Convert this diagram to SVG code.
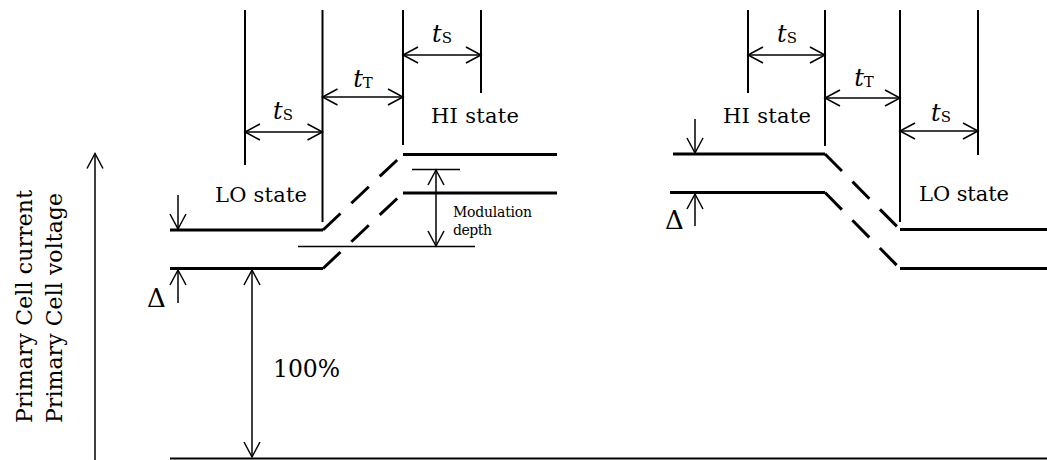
<svg xmlns="http://www.w3.org/2000/svg" width="1047" height="460" viewBox="0 0 1047 460">
<style>
  text { font-family: "DejaVu Serif", "Liberation Serif", serif; fill: #000; }
  .lbl { font-size: 21px; }
  .t { font-size: 24px; font-style: italic; }
  .sub { font-size: 15px; font-style: normal; }
  .delta { font-size: 26px; }
  .level { stroke: #000; stroke-width: 3; fill: none; }
  .dash { stroke: #000; stroke-width: 3; fill: none; stroke-dasharray: 24 15; }
  .vl { stroke: #000; stroke-width: 2; fill: none; }
  .thin { stroke: #000; stroke-width: 1.5; fill: none; }
  .arr { stroke: #000; stroke-width: 1.5; fill: none; marker-end: url(#ah); }
  .darr { stroke: #000; stroke-width: 1.5; fill: none; marker-start: url(#ah); marker-end: url(#ah); }
</style>
<defs>
  <marker id="ah" viewBox="-17 -10 20 20" refX="0" refY="0" markerWidth="20" markerHeight="20" markerUnits="userSpaceOnUse" orient="auto-start-reverse" overflow="visible">
    <path d="M-15,-8 L0,0 L-15,8" fill="none" stroke="#000" stroke-width="1.5"/>
  </marker>
</defs>
<rect width="1047" height="460" fill="#fff"/>

<g id="axis">
  <line class="vl" x1="170" y1="458.5" x2="1047" y2="458.5"/>
  <text textLength="233" transform="translate(32,423) rotate(-90)" style="font-size:22px">Primary Cell current</text>
  <text textLength="230" transform="translate(62,423) rotate(-90)" style="font-size:22px">Primary Cell voltage</text>
</g>

<g id="left-levels">
  <line class="level" x1="170" y1="230" x2="323" y2="230"/>
  <path class="dash" d="M323,230 L403,154.5"/>
  <line class="level" x1="403" y1="154.5" x2="557" y2="154.5"/>
  <line class="level" x1="170" y1="268.5" x2="323" y2="268.5"/>
  <path class="dash" d="M323,268.5 L403,193"/>
  <line class="level" x1="403" y1="193" x2="557" y2="193"/>
</g>

<g id="right-levels">
  <line class="level" x1="673" y1="154" x2="825" y2="154"/>
  <path class="dash" d="M825,154 L900,229.5"/>
  <line class="level" x1="900" y1="229.5" x2="1047" y2="229.5"/>
  <line class="level" x1="670" y1="192.5" x2="825" y2="192.5"/>
  <path class="dash" d="M825,192.5 L900,268.5"/>
  <line class="level" x1="900" y1="268.5" x2="1047" y2="268.5"/>
</g>

<g id="left-timing">
  <line class="vl" x1="245" y1="10" x2="245" y2="165"/>
  <line class="vl" x1="322.5" y1="10" x2="322.5" y2="222"/>
  <line class="vl" x1="403" y1="10" x2="403" y2="145"/>
  <line class="vl" x1="481" y1="10" x2="481" y2="93"/>
</g>

<g id="right-timing">
  <line class="vl" x1="748" y1="10" x2="748" y2="93"/>
  <line class="vl" x1="825" y1="10" x2="825" y2="146"/>
  <line class="vl" x1="900" y1="10" x2="900" y2="222"/>
  <line class="vl" x1="978" y1="10" x2="978" y2="155"/>
</g>

<g id="modulation">
  <line class="thin" x1="412" y1="169.5" x2="460" y2="169.5"/>
  <line class="thin" x1="298" y1="246.5" x2="475" y2="246.5"/>
  <text x="453" y="217" style="font-size:14px" textLength="79">Modulation</text>
  <text x="453" y="235" style="font-size:14px" textLength="39">depth</text>
</g>

<g id="connectors">
  <line class="arr" x1="95" y1="460" x2="95" y2="153.5"/>
  <line class="darr" x1="403" y1="55" x2="481" y2="55"/>
  <line class="darr" x1="322.5" y1="97" x2="403" y2="97"/>
  <line class="darr" x1="245" y1="132" x2="322.5" y2="132"/>
  <line class="darr" x1="748" y1="55" x2="825" y2="55"/>
  <line class="darr" x1="825" y1="98" x2="900" y2="98"/>
  <line class="darr" x1="900" y1="131" x2="978" y2="131"/>
  <line class="arr" x1="178" y1="195" x2="178" y2="229"/>
  <line class="arr" x1="178" y1="303" x2="178" y2="270"/>
  <line class="darr" x1="252" y1="270" x2="252" y2="457"/>
  <line class="darr" x1="436" y1="170" x2="436" y2="246"/>
  <line class="arr" x1="695" y1="119" x2="695" y2="153"/>
  <line class="arr" x1="695" y1="226" x2="695" y2="194"/>
</g>

<g id="labels">
  <text class="t" x="442" y="42" text-anchor="middle">t<tspan class="sub" dy="1">S</tspan></text>
  <text class="t" x="363" y="87" text-anchor="middle">t<tspan class="sub" dy="1">T</tspan></text>
  <text class="t" x="283" y="119" text-anchor="middle">t<tspan class="sub" dy="1">S</tspan></text>
  <text class="t" x="787" y="42" text-anchor="middle">t<tspan class="sub" dy="1">S</tspan></text>
  <text class="t" x="864" y="86" text-anchor="middle">t<tspan class="sub" dy="1">T</tspan></text>
  <text class="t" x="941" y="121" text-anchor="middle">t<tspan class="sub" dy="1">S</tspan></text>
  <text class="lbl" x="431" y="122.5" textLength="88">HI state</text>
  <text class="lbl" x="215" y="202" textLength="92">LO state</text>
  <text class="lbl" x="723" y="123" textLength="88">HI state</text>
  <text class="lbl" x="919" y="201" textLength="90">LO state</text>
  <text x="273" y="376.5" style="font-size:23.5px" textLength="67">100%</text>
  <text class="delta" x="147" y="307">Δ</text>
  <text class="delta" x="665" y="229">Δ</text>
</g>
</svg>
